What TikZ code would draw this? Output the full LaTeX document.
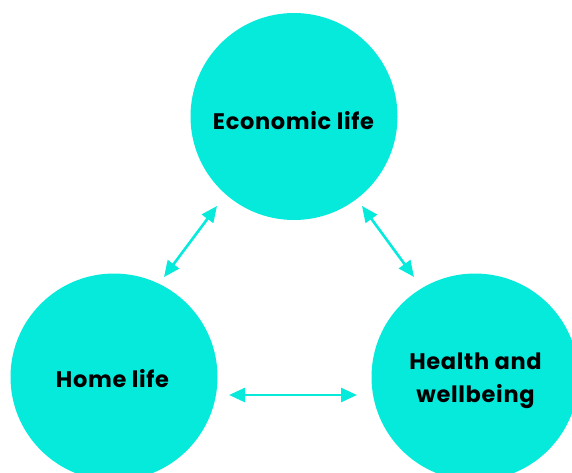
\documentclass[tikz,border=0pt]{standalone}
\usepackage{fontspec}
\setmainfont{Poppins}[LetterSpace=3]
\usetikzlibrary{arrows.meta}
\definecolor{cyanfill}{RGB}{6,234,220}
\tikzset{
  life/.style={circle, fill=cyanfill, minimum size=207pt, inner sep=0pt},
  lifetext/.style={font=\fontsize{22.5}{33}\selectfont\bfseries, align=center, text=black, inner sep=0pt},
  link/.style={draw=cyanfill, line width=2.6pt,
    {Triangle[length=16pt,width=14pt]}-{Triangle[length=16pt,width=14pt]}}
}
\begin{document}
\begin{tikzpicture}[x=1pt,y=-1pt]
\useasboundingbox (0,0) rectangle (572,472);
\clip (0,0) rectangle (572,472);
\node[life] (econ) at (294,116.5) {};
\node[life] (home) at (114,377) {};
\node[life] (health) at (475,377) {};
\node[lifetext] (econt) at (293.5,121) {Economic life};
\node[lifetext] (homet) at (112.5,379) {Home life};
\node[lifetext] (healtht) at (475.5,381) {Health and\\wellbeing};
\coordinate (a1) at (217,206);
\coordinate (a2) at (164,277);
\coordinate (b1) at (362,206);
\coordinate (b2) at (414,277);
\coordinate (c1) at (229,395);
\coordinate (c2) at (357,395);
\draw[link] (a1) -- (a2);
\draw[link] (b1) -- (b2);
\draw[link] (c1) -- (c2);
\end{tikzpicture}
\end{document}
